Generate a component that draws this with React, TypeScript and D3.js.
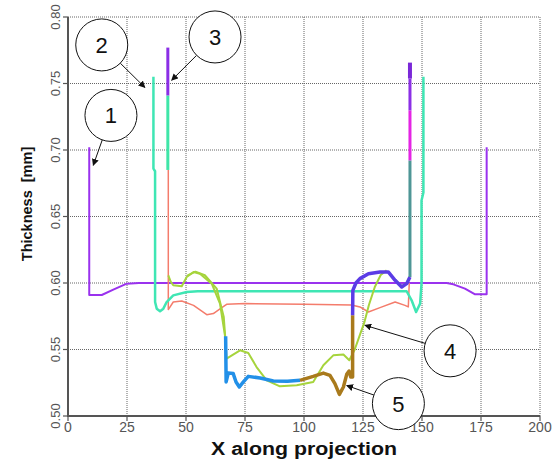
import * as d3 from "d3";

type Pt = [number, number];

// x ticks and y ticks
const xTicks = [0, 25, 50, 75, 100, 125, 150, 175, 200];
const yTicks = [0.5, 0.55, 0.6, 0.65, 0.7, 0.75, 0.8];

// profile 1 (purple, widest)
const purple: Pt[] = [
  [9.0, 0.702], [9.0, 0.591], [14.3, 0.591], [19.2, 0.595], [24.9, 0.5995], [30, 0.6],
  [160.5, 0.6], [163.3, 0.599], [168.2, 0.5958], [172.5, 0.5915], [177.4, 0.5915], [177.4, 0.702],
];

// profile 2 (aqua)
const teal: Pt[] = [
  [36.2, 0.755], [36.2, 0.686], [36.9, 0.684], [36.9, 0.5857], [37.6, 0.5807], [39, 0.5787],
  [40.4, 0.5807], [41.8, 0.5857], [44.6, 0.5907], [50.3, 0.5932], [55, 0.5938], [143.5, 0.5938],
  [145.6, 0.587], [147.5, 0.5782], [149.2, 0.5845], [149.8, 0.5995], [149.8, 0.662],
  [150.6, 0.668], [150.6, 0.755],
];

// profile 3 (salmon)
const salmon: Pt[] = [
  [42.5, 0.685], [42.5, 0.58], [44.6, 0.5857], [48.2, 0.5865], [53.2, 0.5832], [58.8, 0.5762],
  [61.6, 0.577], [64.4, 0.5805], [67.2, 0.584], [75, 0.5845], [100, 0.584], [120.2, 0.5835],
  [123.7, 0.582], [127.3, 0.5782], [132.2, 0.5815], [138.6, 0.5857], [142.8, 0.5832],
  [144.2, 0.582], [144.6, 0.6],
];

// lime profiles
const lime1: Pt[] = [
  [42.5, 0.6058], [43.5, 0.601], [44.6, 0.5983], [48.2, 0.5975], [50.3, 0.6045], [53.2, 0.6083],
  [55.9, 0.607], [60.9, 0.5995], [64.4, 0.5845], [66.5, 0.5607], [67.2, 0.5432], [72.9, 0.5494],
  [76.4, 0.5474], [79.9, 0.5368], [84.2, 0.5268], [89.8, 0.5223], [96.9, 0.5231], [103.9, 0.5256],
  [108.2, 0.5381], [112.4, 0.5456], [116.7, 0.5462], [119.2, 0.5419], [121.5, 0.55], [123.5, 0.56],
  [125.5, 0.57], [127.5, 0.5835], [130, 0.597], [132.5, 0.606], [135, 0.6095],
];
const lime2: Pt[] = [
  [50.5, 0.6055], [54, 0.6085], [58, 0.6058], [63, 0.5958], [66, 0.5744], [66.6, 0.56],
];
const lime3: Pt[] = [
  [138.6, 0.6025], [141.4, 0.5975], [143.5, 0.6], [144.6, 0.604],
];

// profile 4/5 (thick line, coloured pieces)
const thickBlue: Pt[] = [
  [66.8, 0.56], [67.0, 0.5256], [67.9, 0.5323], [70.0, 0.5319], [71.2, 0.5256], [72.6, 0.5218],
  [74.3, 0.5256], [76.4, 0.5298], [81.4, 0.5286], [87, 0.5263], [93, 0.5262], [98.3, 0.5268],
];
const thickBrown: Pt[] = [
  [98.3, 0.5268], [103.9, 0.5298], [108.2, 0.5323], [111, 0.5306], [113.1, 0.5244], [115, 0.5163],
  [116.7, 0.5218], [118.1, 0.5313], [119.1, 0.5338], [119.8, 0.5293], [120.6, 0.5293], [120.6, 0.5757],
];
const thickViolet: Pt[] = [
  [120.6, 0.5757], [120.7, 0.5945], [122, 0.6], [123.7, 0.6033], [127.3, 0.607], [132.2, 0.6083],
  [135.7, 0.6083], [138.6, 0.602], [141.4, 0.597], [143.5, 0.5995], [144.9, 0.6045],
];
const spikeRight: { pts: Pt[]; color: string; w: number }[] = [
  { pts: [[144.9, 0.6045], [144.9, 0.6922]], color: "#4e9696", w: 3 },
  { pts: [[144.9, 0.6922], [144.9, 0.7298]], color: "#e424e4", w: 3 },
  { pts: [[144.9, 0.7298], [144.9, 0.7537]], color: "#8b2fe6", w: 3 },
  { pts: [[144.9, 0.7537], [144.9, 0.7657]], color: "#7a28d8", w: 4 },
];
const spikeLeft: { pts: Pt[]; color: string; w: number }[] = [
  { pts: [[42.3, 0.741], [42.3, 0.685]], color: "#3fe6a8", w: 3 },
  { pts: [[42.3, 0.777], [42.3, 0.741]], color: "#8b2fe6", w: 3 },
];

// callouts: label, circle centre, arrow tip
const callouts: { label: string; c: Pt; tip: Pt }[] = [
  { label: "1", c: [18.2, 0.726], tip: [10.7, 0.6885] },
  { label: "2", c: [14.3, 0.779], tip: [32.6, 0.747] },
  { label: "3", c: [62.3, 0.785], tip: [43.9, 0.7524] },
  { label: "4", c: [161.9, 0.549], tip: [125.8, 0.5682] },
  { label: "5", c: [140, 0.5093], tip: [118.1, 0.5229] },
];

const W = 560;
const H = 466;
const M = { left: 68, top: 17, right: 540, bottom: 416 };

export default function App() {
  const x = d3.scaleLinear().domain([0, 200]).range([M.left, M.right]);
  const y = d3.scaleLinear().domain([0.5, 0.8]).range([M.bottom, M.top]);
  const line = d3
    .line<Pt>()
    .x((d) => x(d[0]))
    .y((d) => y(d[1]));

  const series: { pts: Pt[]; color: string; w: number }[] = [
    { pts: purple, color: "#9a32ee", w: 2 },
    { pts: salmon, color: "#f47c6c", w: 1.5 },
    { pts: teal, color: "#3fe6b4", w: 2.5 },
    { pts: lime2, color: "#a6d43c", w: 2 },
    { pts: lime1, color: "#a6d43c", w: 2 },
    { pts: lime3, color: "#a6d43c", w: 2 },
    ...spikeLeft,
    { pts: thickBlue, color: "#2290e8", w: 3.5 },
    { pts: thickBrown, color: "#a97a1c", w: 3.5 },
    { pts: thickViolet, color: "#5b3ce6", w: 3.5 },
    ...spikeRight,
  ];

  const R = 26;

  return (
    <svg
      width={W}
      height={H}
      style={{ position: "absolute", left: 0, top: 0, background: "#fff" }}
      fontFamily="Arial, Liberation Sans, sans-serif"
    >
      <defs>
        <marker id="ah" viewBox="0 0 10 10" refX="9" refY="5" markerWidth="7" markerHeight="7" orient="auto">
          <path d="M0,0 L10,5 L0,10 z" fill="#111" />
        </marker>
      </defs>

      {/* grid */}
      {xTicks.map((t) => (
        <line key={"gx" + t} x1={x(t)} x2={x(t)} y1={M.top} y2={M.bottom} stroke="#666" strokeWidth={1} strokeDasharray="1,1" />
      ))}
      {yTicks.map((t) => (
        <line key={"gy" + t} x1={M.left} x2={M.right} y1={y(t)} y2={y(t)} stroke="#666" strokeWidth={1} strokeDasharray="1,1" />
      ))}

      {/* axes */}
      <line x1={M.left} x2={M.left} y1={M.top} y2={M.bottom + 1} stroke="#555" strokeWidth={2} />
      <line x1={M.left - 1} x2={M.right} y1={M.bottom} y2={M.bottom} stroke="#555" strokeWidth={2} />
      {xTicks.map((t) => (
        <g key={"tx" + t}>
          <line x1={x(t)} x2={x(t)} y1={M.bottom} y2={M.bottom + 5} stroke="#555" strokeWidth={1.2} />
          <text x={x(t)} y={M.bottom + 16} textAnchor="middle" fontSize={14} fill="#555">
            {t}
          </text>
        </g>
      ))}
      {yTicks.map((t) => (
        <g key={"ty" + t}>
          <line x1={M.left - 5} x2={M.left} y1={y(t)} y2={y(t)} stroke="#555" strokeWidth={1.2} />
          <text
            transform={`translate(${M.left - 8},${y(t)}) rotate(-90)`}
            textAnchor="middle"
            fontSize={13}
            fill="#555"
          >
            {t.toFixed(2)}
          </text>
        </g>
      ))}
      <text
        x={(M.left + M.right) / 2}
        y={455}
        textAnchor="middle"
        fontSize={18}
        fontWeight="bold"
        fill="#111"
        textLength={186}
        lengthAdjust="spacingAndGlyphs"
      >
        X along projection
      </text>
      <text
        transform={`translate(32,204) rotate(-90)`}
        textAnchor="middle"
        fontSize={14.5}
        fontWeight="bold"
        fill="#111"
        style={{ whiteSpace: "pre" }}
      >
        {"Thickness  [mm]"}
      </text>

      {/* data */}
      {series.map((s, i) => (
        <path key={"s" + i} d={line(s.pts) || ""} fill="none" stroke={s.color} strokeWidth={s.w} strokeLinejoin="round" />
      ))}

      {/* callouts */}
      {callouts.map((c) => {
        const cx = x(c.c[0]);
        const cy = y(c.c[1]);
        const tx = x(c.tip[0]);
        const ty = y(c.tip[1]);
        const dx = tx - cx;
        const dy = ty - cy;
        const len = Math.hypot(dx, dy);
        const sx = cx + (dx / len) * R;
        const sy = cy + (dy / len) * R;
        return (
          <g key={"c" + c.label}>
            <line x1={sx} y1={sy} x2={tx} y2={ty} stroke="#111" strokeWidth={1} markerEnd="url(#ah)" />
            <circle cx={cx} cy={cy} r={R} fill="#fff" stroke="#111" strokeWidth={1} />
            <text x={cx} y={cy + 8} textAnchor="middle" fontSize={22} fill="#111">
              {c.label}
            </text>
          </g>
        );
      })}
    </svg>
  );
}
